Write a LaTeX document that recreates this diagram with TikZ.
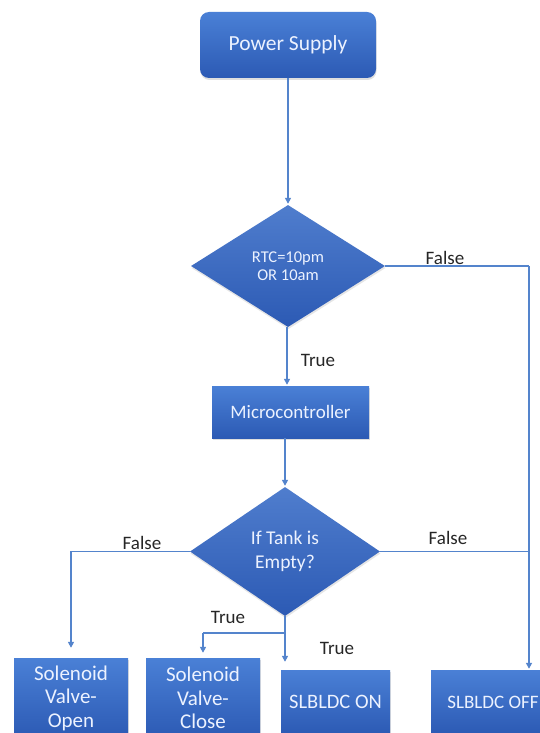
\documentclass[tikz,border=0pt]{standalone}
\usepackage{fontspec}
\setmainfont{Carlito}
\usetikzlibrary{shapes.geometric,arrows.meta,shadows}
\definecolor{boxtop}{RGB}{74,128,214}
\definecolor{boxbot}{RGB}{44,90,180}
\definecolor{dmd}{RGB}{60,111,200}
\definecolor{wire}{RGB}{84,132,204}
\definecolor{lbl}{RGB}{38,38,38}
\definecolor{btext}{RGB}{236,242,255}
\tikzset{
  fbox/.style={rectangle, draw=none, top color=boxtop, bottom color=boxbot,
    text=btext, align=center, inner sep=0pt,
    drop shadow={opacity=0.25, shadow xshift=0.5pt, shadow yshift=-2pt}},
  fdiam/.style={diamond, draw=none, top color=dmd!90!white, bottom color=boxbot,
    text=btext, align=center, inner sep=0pt,
    drop shadow={opacity=0.2, shadow xshift=0.5pt, shadow yshift=-2pt}},
  wireline/.style={draw=wire, line width=1.8pt},
  arr/.style={wireline, -{Triangle[length=6pt,width=6pt]}},
  flabel/.style={text=lbl, font=\fontsize{19}{22}\selectfont, inner sep=0pt}
}
\begin{document}
\begin{tikzpicture}[x=1pt,y=-1pt]
\useasboundingbox (0,0) rectangle (540,733);
\fill[white] (0,0) rectangle (540,733);
\clip (0,0) rectangle (540,733);

% nodes
\node[fbox, rounded corners=9pt, minimum width=176pt, minimum height=66pt,
  font=\fontsize{21.5}{25}\selectfont] (ps) at (288,45) {Power Supply};
\node[fdiam, minimum width=194pt, minimum height=122pt,
  font=\fontsize{16.5}{18}\selectfont] (d1) at (288,266) {RTC=10pm\\OR 10am};
\node[fbox, minimum width=157pt, minimum height=52pt,
  font=\fontsize{19}{22}\selectfont] (mc) at (290.5,412) {Microcontroller};
\node[fdiam, minimum width=190pt, minimum height=129pt,
  font=\fontsize{19.5}{24}\selectfont] (d2) at (285,551.5) {If Tank is\\Empty?};
\node[fbox, minimum width=114pt, minimum height=80pt,
  font=\fontsize{21}{23.5}\selectfont] (vo) at (71,698) {Solenoid\\Valve-\\Open};
\node[fbox, minimum width=114pt, minimum height=80pt,
  font=\fontsize{21}{23.5}\selectfont] (vc) at (203,698) {Solenoid\\Valve-\\Close};
\node[fbox, minimum width=109pt, minimum height=64pt,
  font=\fontsize{20.5}{24}\selectfont] (on) at (335.5,702) {SLBLDC ON};
\node[fbox, minimum width=124pt, minimum height=64pt,
  font=\fontsize{19}{23}\selectfont] (off) at (493,702) {SLBLDC OFF};

\coordinate (rt) at (529,266);
\coordinate (lt) at (71,551.5);
\coordinate (br) at (285,633);
\coordinate (bl) at (203,633);

% connectors
\draw[arr, shorten >=1pt] (ps.south) -- (d1.north);
\draw[wireline] (d1.east) -- (rt);
\draw[arr, shorten >=1pt] (rt) -- (rt |- off.north);
\draw[arr, shorten >=1pt] (d1.south -| 287,0) -- (287,0 |- mc.north);
\draw[arr, shorten >=1pt] (285,0 |- mc.south) -- (d2.north);
\draw[wireline] (d2.east) -- (d2.east -| rt);
\draw[arr, shorten >=10pt] (d2.west) -- (lt) -- (lt |- vo.north);
\draw[wireline] (d2.south) -- (br) -- (bl);
\draw[arr, shorten >=5pt] (bl) -- (bl |- vc.north);
\draw[arr, shorten >=8pt] (br) -- (br |- on.north);

% labels
\node[flabel] (l1) at (445,258) {False};
\node[flabel] (l2) at (318,360) {True};
\node[flabel] (l3) at (142,543) {False};
\node[flabel] (l4) at (448,538) {False};
\node[flabel] (l5) at (228,617) {True};
\node[flabel] (l6) at (337,648) {True};
\end{tikzpicture}
\end{document}
